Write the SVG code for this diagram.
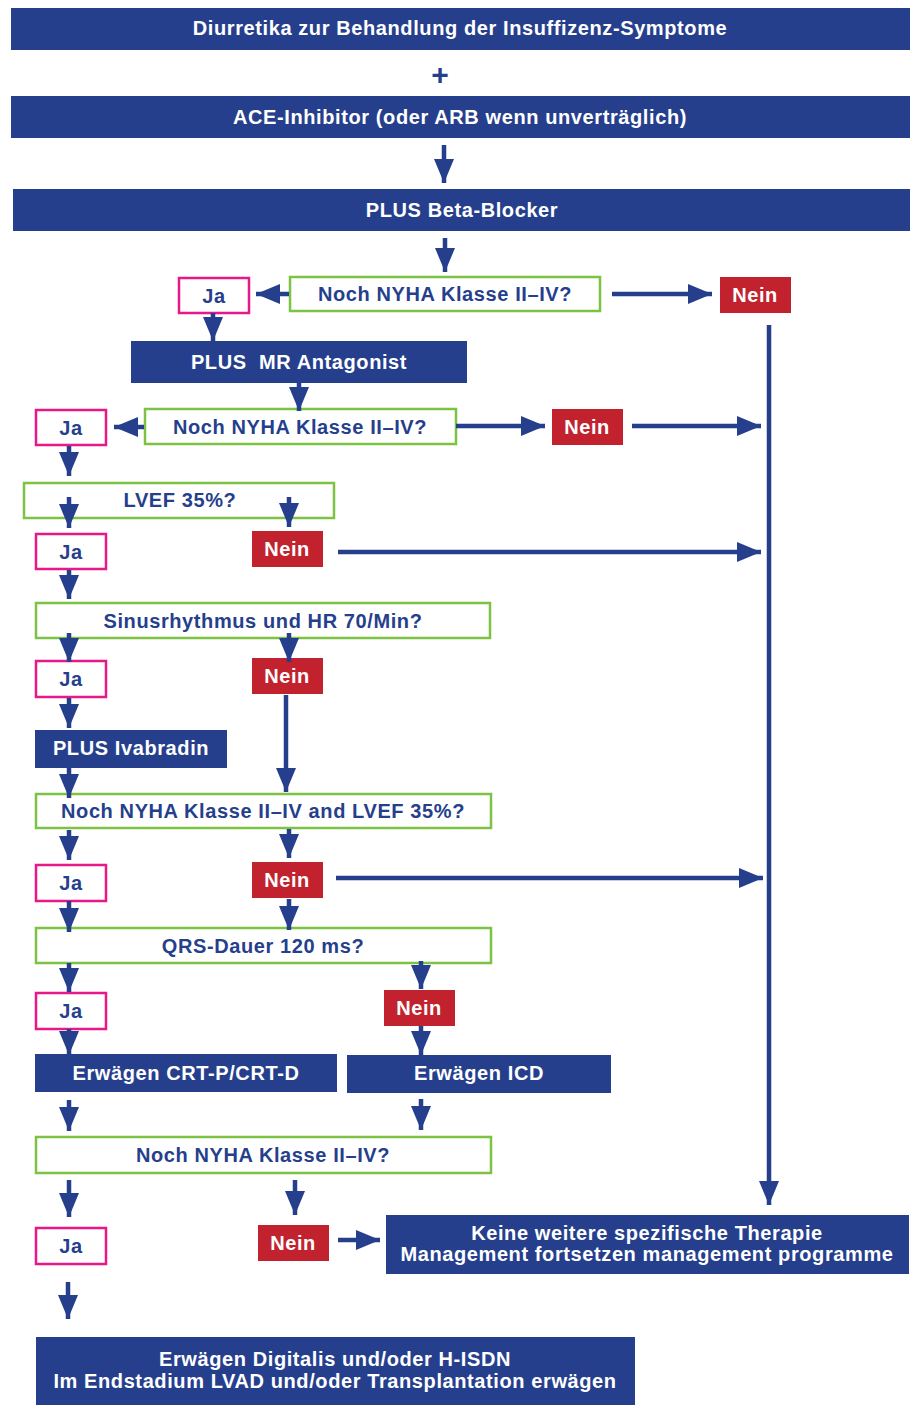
<svg xmlns="http://www.w3.org/2000/svg" width="910" height="1405" viewBox="0 0 910 1405">
<defs>
<style>
.b{fill:#263f8d}
.q{fill:#fff;stroke:#7cc243;stroke-width:2.5}
.ja{fill:#fff;stroke:#e8178a;stroke-width:2.5}
.n{fill:#c1222e}
text{font-family:"Liberation Sans",Arial,sans-serif;font-weight:bold;font-size:20px;letter-spacing:0.6px;text-anchor:middle;dominant-baseline:central;white-space:pre}
.w{fill:#fff}
.t{fill:#263f8d}
.pl{font-size:30px;letter-spacing:0}
.c line{stroke:#263f8d;stroke-width:4.5;marker-end:url(#ah)}
</style>
<marker id="ah" markerUnits="userSpaceOnUse" markerWidth="26" markerHeight="20" refX="24" refY="10" orient="auto">
<path d="M0,0 L24,10 L0,20 Z" fill="#263f8d"/>
</marker>
</defs>
<rect width="910" height="1405" fill="#fff"/>

<g id="diuretika"><rect class="b" x="11" y="8" width="899" height="42"/><text class="w" x="460" y="28">Diurretika zur Behandlung der Insuffizenz-Symptome</text></g>
<g id="plus"><text class="t pl" x="440" y="74">+</text></g>
<g id="ace"><rect class="b" x="11" y="96" width="899" height="42"/><text class="w" x="460" y="117">ACE-Inhibitor (oder ARB wenn unverträglich)</text></g>
<g id="beta"><rect class="b" x="13" y="189" width="897" height="42"/><text class="w" x="462" y="210">PLUS Beta-Blocker</text></g>

<g id="q1"><rect class="q" x="290" y="277" width="310" height="34"/><text class="t" x="445" y="294">Noch NYHA Klasse II–IV?</text></g>
<g id="ja1"><rect class="ja" x="179" y="278" width="70" height="35"/><text class="t" x="214" y="296">Ja</text></g>
<g id="nein1"><rect class="n" x="720" y="277" width="71" height="36"/><text class="w" x="755" y="295">Nein</text></g>
<g id="mr"><rect class="b" x="131" y="341" width="336" height="42"/><text class="w" x="299" y="362">PLUS  MR Antagonist</text></g>
<g id="q2"><rect class="q" x="145" y="409" width="311" height="35"/><text class="t" x="300" y="427">Noch NYHA Klasse II–IV?</text></g>
<g id="ja2"><rect class="ja" x="36" y="410" width="70" height="35"/><text class="t" x="71" y="428">Ja</text></g>
<g id="nein2"><rect class="n" x="552" y="409" width="71" height="36"/><text class="w" x="587" y="427">Nein</text></g>
<g id="q3"><rect class="q" x="24" y="483" width="310" height="35"/><text class="t" x="180" y="500">LVEF 35%?</text></g>
<g id="ja3"><rect class="ja" x="36" y="534" width="70" height="35"/><text class="t" x="71" y="552">Ja</text></g>
<g id="nein3"><rect class="n" x="252" y="531" width="71" height="36"/><text class="w" x="287" y="549">Nein</text></g>
<g id="q4"><rect class="q" x="36" y="603" width="454" height="35"/><text class="t" x="263" y="621">Sinusrhythmus und HR 70/Min?</text></g>
<g id="ja4"><rect class="ja" x="36" y="661" width="70" height="36"/><text class="t" x="71" y="679">Ja</text></g>
<g id="nein4"><rect class="n" x="252" y="658" width="71" height="36"/><text class="w" x="287" y="676">Nein</text></g>
<g id="ivabradin"><rect class="b" x="35" y="730" width="192" height="38"/><text class="w" x="131" y="748">PLUS Ivabradin</text></g>
<g id="q5"><rect class="q" x="36" y="794" width="455" height="34"/><text class="t" x="263" y="811">Noch NYHA Klasse II–IV and LVEF 35%?</text></g>
<g id="ja5"><rect class="ja" x="36" y="865" width="70" height="36"/><text class="t" x="71" y="883">Ja</text></g>
<g id="nein5"><rect class="n" x="252" y="862" width="71" height="36"/><text class="w" x="287" y="880">Nein</text></g>
<g id="q6"><rect class="q" x="36" y="928" width="455" height="35"/><text class="t" x="263" y="946">QRS-Dauer 120 ms?</text></g>
<g id="ja6"><rect class="ja" x="36" y="993" width="70" height="36"/><text class="t" x="71" y="1011">Ja</text></g>
<g id="nein6"><rect class="n" x="384" y="990" width="71" height="36"/><text class="w" x="419" y="1008">Nein</text></g>
<g id="crt"><rect class="b" x="35" y="1054" width="302" height="38"/><text class="w" x="186" y="1073">Erwägen CRT-P/CRT-D</text></g>
<g id="icd"><rect class="b" x="347" y="1055" width="264" height="38"/><text class="w" x="479" y="1073">Erwägen ICD</text></g>
<g id="q7"><rect class="q" x="36" y="1137" width="455" height="36"/><text class="t" x="263" y="1155">Noch NYHA Klasse II–IV?</text></g>
<g id="ja7"><rect class="ja" x="36" y="1228" width="70" height="36"/><text class="t" x="71" y="1246">Ja</text></g>
<g id="nein7"><rect class="n" x="258" y="1225" width="71" height="36"/><text class="w" x="293" y="1243">Nein</text></g>
<g id="keine"><rect class="b" x="386" y="1215" width="523" height="59"/><text class="w" x="647" y="1233">Keine weitere spezifische Therapie</text><text class="w" x="647" y="1254">Management fortsetzen management programme</text></g>
<g id="digitalis"><rect class="b" x="36" y="1337" width="599" height="68"/><text class="w" x="335" y="1359">Erwägen Digitalis und/oder H-ISDN</text><text class="w" x="335" y="1381">Im Endstadium LVAD und/oder Transplantation erwägen</text></g>

<g class="c" id="connectors">
<line x1="444" y1="145" x2="444" y2="183"/>
<line x1="445" y1="238" x2="445" y2="272"/>
<line x1="289" y1="294" x2="256" y2="294"/>
<line x1="612" y1="294" x2="712" y2="294"/>
<line x1="213" y1="313" x2="213" y2="341"/>
<line x1="769" y1="325" x2="769" y2="1205"/>
<line x1="299" y1="383" x2="299" y2="411"/>
<line x1="144" y1="427" x2="114" y2="427"/>
<line x1="456" y1="426" x2="545" y2="426"/>
<line x1="632" y1="426" x2="761" y2="426"/>
<line x1="69" y1="446" x2="69" y2="476"/>
<line x1="69" y1="497" x2="69" y2="528"/>
<line x1="289" y1="497" x2="289" y2="527"/>
<line x1="338" y1="552" x2="761" y2="552"/>
<line x1="69" y1="570" x2="69" y2="599"/>
<line x1="69" y1="633" x2="69" y2="662"/>
<line x1="289" y1="633" x2="289" y2="662"/>
<line x1="69" y1="698" x2="69" y2="728"/>
<line x1="286" y1="695" x2="286" y2="792"/>
<line x1="69" y1="768" x2="69" y2="798"/>
<line x1="69" y1="830" x2="69" y2="860"/>
<line x1="289" y1="829" x2="289" y2="858"/>
<line x1="336" y1="878" x2="763" y2="878"/>
<line x1="69" y1="901" x2="69" y2="932"/>
<line x1="289" y1="899" x2="289" y2="930"/>
<line x1="69" y1="963" x2="69" y2="992"/>
<line x1="421" y1="961" x2="421" y2="989"/>
<line x1="69" y1="1029" x2="69" y2="1055"/>
<line x1="421" y1="1026" x2="421" y2="1055"/>
<line x1="69" y1="1100" x2="69" y2="1131"/>
<line x1="421" y1="1099" x2="421" y2="1130"/>
<line x1="69" y1="1180" x2="69" y2="1217"/>
<line x1="295" y1="1180" x2="295" y2="1215"/>
<line x1="338" y1="1240" x2="380" y2="1240"/>
<line x1="68" y1="1282" x2="68" y2="1319"/>
</g>
</svg>
